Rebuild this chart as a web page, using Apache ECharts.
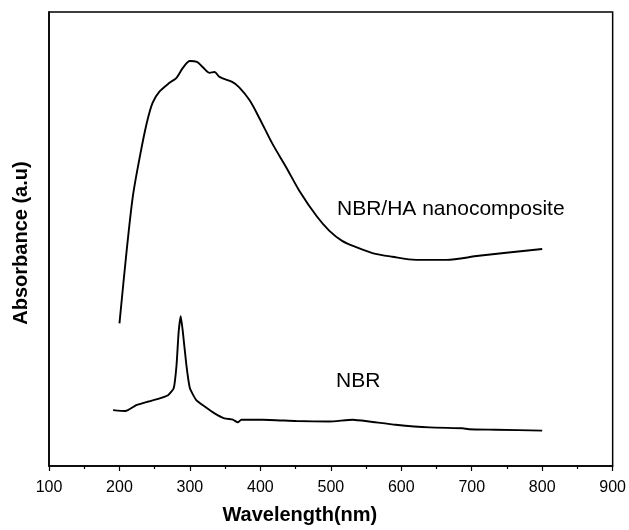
<!DOCTYPE html>
<html>
<head>
<meta charset="utf-8">
<script src="https://cdn.jsdelivr.net/npm/echarts@6/dist/echarts.min.js"></script>
<style>
  html, body { margin: 0; padding: 0; background: #fff; }
  #chart { width: 629px; height: 530px; }
</style>
</head>
<body>
<div id="chart"></div>
<script>
// wavelength (nm) / absorbance (a.u.)
const compositeWl = [200, 210, 219, 229, 239, 247, 257, 271, 281, 290, 300, 310, 318, 328, 335, 342, 360, 370, 385, 399, 417, 437, 455, 480, 498, 516, 536, 559, 587, 621, 664, 710, 800]
const compositeAbs = [31.4, 47.1, 59.4, 68.2, 75.7, 80.0, 82.5, 84.4, 85.5, 87.7, 89.2, 89.0, 87.9, 86.6, 86.8, 85.7, 84.6, 83.4, 80.5, 76.5, 71.0, 65.7, 60.7, 55.0, 51.8, 49.6, 48.2, 46.9, 46.1, 45.4, 45.4, 46.3, 47.8]

const nbrWl = [191, 208, 212, 224, 241, 255, 269, 277, 281, 284, 287, 290, 295, 300, 309, 321, 335, 349, 361, 368, 373, 403, 451, 498, 531, 555, 592, 640, 687, 696, 734, 800]
const nbrAbs = [12.3, 12.1, 12.3, 13.4, 14.2, 14.8, 15.6, 17.1, 22.2, 29.5, 33.0, 29.5, 22.2, 17.1, 14.5, 13.1, 11.6, 10.5, 10.2, 9.6, 10.2, 10.2, 9.9, 9.8, 10.2, 9.8, 9.1, 8.5, 8.3, 8.1, 8.0, 7.8]

const xTicks = [100, 200, 300, 400, 500, 600, 700, 800, 900]

const pair = (xs, ys) => xs.map((x, i) => [x, ys[i]])
const font = 'Arial, "Liberation Sans", Helvetica, sans-serif'

const chart = echarts.init(document.getElementById('chart'), null, { renderer: 'canvas' })
chart.setOption({
  animation: false,
  backgroundColor: '#fff',
  grid: { left: 49, right: 15, top: 12, bottom: 62, show: true, borderColor: '#000', borderWidth: 1.5, backgroundColor: 'transparent' },
  xAxis: {
    type: 'value', min: xTicks[0], max: xTicks[xTicks.length - 1], interval: 100,
    name: 'Wavelength(nm)', nameLocation: 'middle', nameGap: 39,
    nameTextStyle: { fontFamily: font, fontSize: 20, fontWeight: 'bold', color: '#000', padding: [0, 62, 0, 0] },
    axisLine: { show: true, lineStyle: { color: '#000', width: 1.5 } },
    axisTick: { show: true, inside: false, length: 5, lineStyle: { color: '#000', width: 1.2 } },
    minorTick: { show: true, splitNumber: 2, length: 3, lineStyle: { color: '#000', width: 1.2 } },
    axisLabel: { fontFamily: font, fontSize: 16, color: '#000', margin: 14 },
    splitLine: { show: false }
  },
  yAxis: {
    type: 'value', min: 0, max: 100,
    name: 'Absorbance (a.u)', nameLocation: 'middle', nameGap: 18, nameRotate: 90,
    nameTextStyle: { fontFamily: font, fontSize: 20, fontWeight: 'bold', color: '#000', padding: [0, 8, 0, 0] },
    axisLine: { show: true, lineStyle: { color: '#000', width: 1.5 } },
    axisTick: { show: false },
    axisLabel: { show: false },
    splitLine: { show: false }
  },
  series: [
    { name: 'NBR/HA nanocomposite', type: 'line', data: pair(compositeWl, compositeAbs), smooth: 0.3, showSymbol: false,
      lineStyle: { color: '#000', width: 1.9 } },
    { name: 'NBR', type: 'line', data: pair(nbrWl, nbrAbs), smooth: 0.15, showSymbol: false,
      lineStyle: { color: '#000', width: 1.9 } }
  ],
  graphic: [
    { type: 'text', left: 337, top: 199, style: { text: 'NBR/HA nanocomposite', font: '21px ' + font, fill: '#000' } },
    { type: 'text', left: 336, top: 371, style: { text: 'NBR', font: '21px ' + font, fill: '#000' } }
  ]
})
</script>
</body>
</html>
